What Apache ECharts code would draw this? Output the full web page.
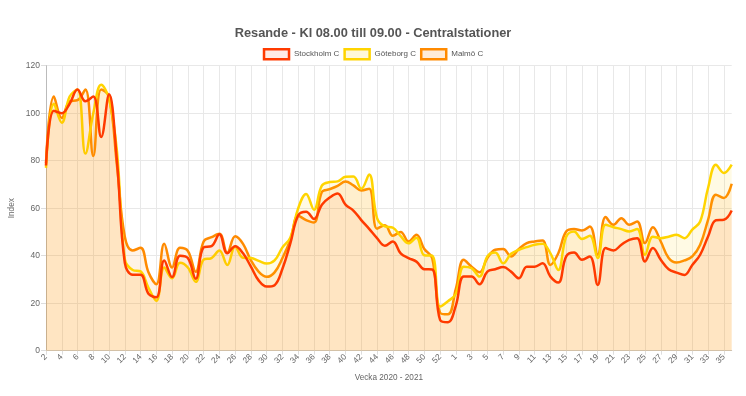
<!DOCTYPE html>
<html>
<head>
<meta charset="utf-8">
<script src="https://cdn.jsdelivr.net/npm/echarts@6/dist/echarts.min.js"></script>
<style>
html,body{margin:0;padding:0;background:#fff;}
#chart{width:746px;height:396px;}
</style>
</head>
<body>
<div id="chart"></div>
<script>
// Weeks: 2020 w2..w53, 2021 w1..w36
const weeks2020 = [2,3,4,5,6,7,8,9,10,11,12,13,14,15,16,17,18,19,20,21,22,23,24,25,26,27,28,29,30,31,32,33,34,35,36,37,38,39,40,41,42,43,44,45,46,47,48,49,50,51,52,53];
const weeks2021 = [1,2,3,4,5,6,7,8,9,10,11,12,13,14,15,16,17,18,19,20,21,22,23,24,25,26,27,28,29,30,31,32,33,34,35,36];

const stockholm = [
  78, 101, 100, 104, 110, 105, 107, 90, 108, 80,
  37, 32, 32, 24, 22.5, 38, 31, 40, 39, 30.3,
  43.5, 44, 49, 41, 44, 41, 35.4, 29.5, 27, 27.6,
  34.5, 45.2, 57, 58.5, 55.5, 61.5, 64.5, 66.2, 61.5, 59,
  55, 51.3, 47.4, 44.2, 46, 41, 39, 37.5, 34.3, 34.2,
  13, 12, 19, 31.2, 31.2, 28, 33.3, 34.3, 35.2, 33.3,
  30.5, 35.4, 35.4, 36.8, 31.2, 28.7, 39.7, 41.3, 38.3, 39.7,
  27.7, 43.2, 42.2, 44.6, 46.7, 47.4, 37.6, 43.2, 38.3, 34.3,
  32.9, 31.9, 36.1, 40.4, 48.1, 54.9, 55.1, 59
];
const goteborg = [
  77, 104, 96, 107, 110, 83, 100, 112, 106, 84,
  38.5, 34, 33.4, 26.5, 21, 35, 30.5, 37, 35, 29,
  38.3, 39, 42.2, 36.1, 43.8, 39.1, 39, 37.8, 36.7, 38,
  43.5, 47.6, 60, 66, 59.4, 69.5, 71, 71.3, 73.2, 73.3,
  68.2, 74.2, 55.8, 52.3, 51.8, 48.2, 45.2, 47.6, 40.2, 40,
  18.6, 20.8, 24, 35.4, 34.7, 31.2, 39.7, 41.3, 36.8, 40.8,
  42.5, 43.6, 44.6, 45, 41, 34, 48, 50.2, 47, 48.4,
  39, 53, 52, 51.2, 50.2, 51.2, 40.4, 48, 47.4, 48,
  48.8, 47.4, 51, 54.4, 68.5, 78.3, 74.8, 78.3
];
const malmo = [
  79, 107, 98, 105, 105.5, 110, 82, 110, 107, 78,
  48, 42.2, 43.3, 33, 28, 45, 35, 43.3, 42, 33.2,
  46, 47.8, 49.2, 41.2, 48.2, 45, 38, 33.2, 31.1, 33,
  39, 46.6, 56.8, 55, 54, 66.8, 68, 69.4, 71.2, 69.6,
  67.5, 68.2, 51.4, 52.8, 48.4, 50, 46, 48.8, 42.8, 39,
  16, 15.3, 26, 38.3, 35.4, 33, 39, 42.5, 42.8, 39.7,
  42.8, 45.3, 46, 46.4, 36.1, 41, 50.2, 51.2, 50.6, 52.3,
  40.4, 56.3, 53, 55.8, 53, 54.4, 45.3, 52, 46, 39,
  37.1, 38, 39.7, 44.6, 55.1, 65.7, 64.3, 70.3
];
const seriesNames = ['Stockholm C', 'Göteborg C', 'Malmö C'];

const categories = weeks2020.map(w => '2020-' + w).concat(weeks2021.map(w => '2021-' + w));

const FONT = "'Liberation Sans', Arial, sans-serif";
const colors = ['#ff3a00', '#ffd400', '#ff8a00'];
const fills = ['rgba(255,60,0,0.07)', 'rgba(255,210,0,0.15)', 'rgba(255,130,0,0.14)'];
const legendFills = ['rgba(255,60,0,0.10)', 'rgba(255,210,0,0.15)', 'rgba(255,130,0,0.15)'];

const chart = echarts.init(document.getElementById('chart'), null, {renderer: 'canvas'});
const dataSets = [stockholm, goteborg, malmo];

chart.setOption({
  animation: false,
  backgroundColor: '#fff',
  title: {
    text: 'Resande - Kl 08.00 till 09.00 - Centralstationer',
    left: 'center',
    top: 22,
    textStyle: {fontFamily: FONT, fontSize: 12.8, fontWeight: 'bold', color: '#555'}
  },
  legend: {
    top: 43,
    left: 'center',
    itemWidth: 25,
    itemHeight: 10,
    itemGap: 4,
    icon: 'rect',
    textStyle: {fontFamily: FONT, fontSize: 8, color: '#555'},
    data: seriesNames.map((n, i) => ({
      name: n,
      icon: 'rect',
      itemStyle: {color: legendFills[i], borderColor: colors[i], borderWidth: 2.5}
    }))
  },
  grid: {left: 45, right: 14.3, top: 65.7, bottom: 45.3},
  xAxis: {
    type: 'category',
    data: categories,
    boundaryGap: false,
    name: 'Vecka 2020 - 2021',
    nameLocation: 'middle',
    nameGap: 23,
    nameTextStyle: {fontFamily: FONT, fontSize: 8.2, color: '#666'},
    axisLine: {lineStyle: {color: '#ccc'}},
    axisTick: {show: true, interval: 1, length: 4, lineStyle: {color: '#ddd'}},
    axisLabel: {
      interval: 1,
      rotate: 45,
      fontFamily: FONT,
      fontSize: 8.3,
      color: '#666',
      margin: 5,
      formatter: v => v.split('-')[1]
    },
    splitLine: {show: true, interval: 1, lineStyle: {color: '#e8e8e8'}}
  },
  yAxis: {
    type: 'value',
    min: 0,
    max: 120,
    interval: 20,
    name: 'Index',
    nameLocation: 'middle',
    nameGap: 30,
    nameMoveOverlap: false,
    nameTextStyle: {fontFamily: FONT, fontSize: 8.3, color: '#666'},
    axisLine: {show: true, lineStyle: {color: '#bbb'}},
    axisTick: {show: true, length: 5, lineStyle: {color: '#ddd'}},
    axisLabel: {fontFamily: FONT, fontSize: 8.5, color: '#666', margin: 6},
    splitLine: {lineStyle: {color: '#e8e8e8'}}
  },
  series: dataSets.map((d, i) => ({
    name: seriesNames[i],
    type: 'line',
    data: d,
    smooth: 0.4,
    showSymbol: false,
    symbol: 'none',
    z: 10 - i,
    lineStyle: {color: colors[i], width: 2.5},
    itemStyle: {color: colors[i]},
    areaStyle: {color: fills[i], origin: 'start'}
  }))
});
</script>
</body>
</html>
